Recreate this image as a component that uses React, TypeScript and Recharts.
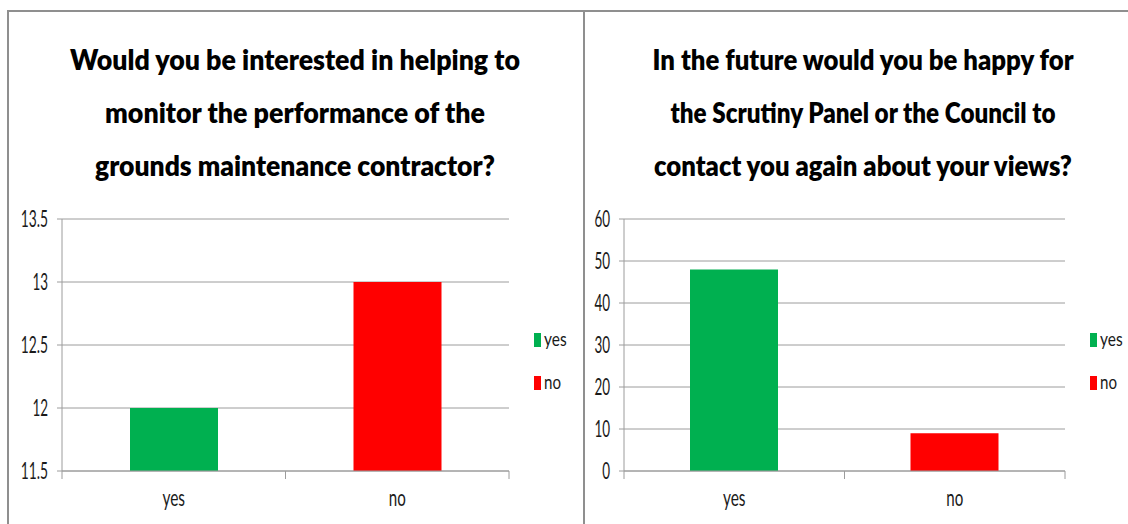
import React from "react";
import { BarChart, Bar, XAxis, YAxis, CartesianGrid, Cell, Legend } from "recharts";

// survey answers
const categories = ["yes", "no"];
const helpMonitorValues = [12, 13];
const contactAgainValues = [48, 9];

const helpMonitorTicks = [11.5, 12, 12.5, 13, 13.5];
const contactAgainTicks = [0, 10, 20, 30, 40, 50, 60];

const helpMonitorTitle = [
  "Would you be interested in helping to",
  "monitor the performance of the",
  "grounds maintenance contractor?",
];
const contactAgainTitle = [
  "In the future would you be happy for",
  "the Scrutiny Panel or the Council to",
  "contact you again about your views?",
];

const barColors = ["#00B050", "#FF0000"];
const GRID = "#9c9c9c";
const FRAME = "#8f8f8f";
const FONT = "Lato, 'Noto Sans', sans-serif";
const HEIGHT = 524;
const PLOT_TOP = 219;
const PLOT_BOTTOM = 471;
const LABEL_SIZE = 23;

// approximate widths of the narrow labels in the picture
const CHAR_W: Record<string, number> = { ".": 3.9, y: 7.4, e: 8, s: 7.2, n: 8.5, o: 8.5 };
const labelWidth = (s: string) =>
  s.split("").reduce((w, c) => w + (CHAR_W[c] ?? 7.8), 0);

const ValueTick = (props: any) => {
  const { x, y, payload } = props;
  const label = String(payload.value);
  return (
    <text
      x={x}
      y={y + 8}
      textAnchor="end"
      fontFamily={FONT}
      fontSize={LABEL_SIZE}
      fill="#1a1a1a"
      textLength={labelWidth(label)}
      lengthAdjust="spacingAndGlyphs"
    >
      {label}
    </text>
  );
};

const CategoryTick = (props: any) => {
  const { x, y, payload, index, half } = props;
  const h = payload && payload.offset ? payload.offset : half;
  const label = String(payload.value);
  return (
    <g>
      {index === 0 && (
        <line x1={x - h} x2={x - h} y1={y} y2={y + 8} stroke={GRID} />
      )}
      <line x1={x + h} x2={x + h} y1={y} y2={y + 8} stroke={GRID} />
      <text
        x={x}
        y={y + 35}
        textAnchor="middle"
        fontFamily={FONT}
        fontSize={LABEL_SIZE}
        fill="#1a1a1a"
        textLength={labelWidth(label)}
        lengthAdjust="spacingAndGlyphs"
      >
        {label}
      </text>
    </g>
  );
};

const LegendBox = () => (
  <svg width={36} height={60} style={{ display: "block", overflow: "visible" }}>
    {categories.map((c, i) => (
      <g key={c} transform={`translate(0, ${i * 43})`}>
        <rect x={0} y={0} width={7} height={14} fill={barColors[i]} />
        <text
          x={10}
          y={13}
          fontFamily={FONT}
          fontSize={20}
          fill="#1a1a1a"
          textLength={labelWidth(c)}
          lengthAdjust="spacingAndGlyphs"
        >
          {c}
        </text>
      </g>
    ))}
  </svg>
);

interface PanelProps {
  left: number;
  width: number;
  axisWidth: number;
  marginRight: number;
  values: number[];
  ticks: number[];
  legendLeft: number;
}

const Panel = ({ left, width, axisWidth, marginRight, values, ticks, legendLeft }: PanelProps) => {
  const data = categories.map((name, i) => ({ name, value: values[i] }));
  const plotWidth = width - axisWidth - marginRight;
  const half = plotWidth / categories.length / 2;
  return (
    <div style={{ position: "absolute", left, top: 0 }}>
      <BarChart
        width={width}
        height={HEIGHT}
        data={data}
        margin={{ top: PLOT_TOP, right: marginRight, bottom: 0, left: 0 }}
      >
        <CartesianGrid vertical={false} stroke={GRID} />
        <XAxis
          dataKey="name"
          stroke={GRID}
          tickLine={false}
          tickSize={0}
          tickMargin={0}
          height={HEIGHT - PLOT_BOTTOM}
          interval={0}
          tick={<CategoryTick half={half} />}
        />
        <YAxis
          type="number"
          domain={[ticks[0], ticks[ticks.length - 1]]}
          ticks={ticks}
          interval={0}
          allowDataOverflow
          width={axisWidth}
          stroke={GRID}
          tickSize={5}
          tickMargin={9}
          tick={<ValueTick />}
        />
        <Bar dataKey="value" barSize={88} isAnimationActive={false}>
          {data.map((d, i) => (
            <Cell key={d.name} fill={barColors[i]} />
          ))}
        </Bar>
        <Legend
          layout="vertical"
          align="center"
          verticalAlign="middle"
          wrapperStyle={{ left: legendLeft, top: 333, width: 36, height: 60 }}
          content={() => <LegendBox />}
        />
      </BarChart>
    </div>
  );
};

const titleWidthsLeft = [450, 380, 400];
const titleWidthsRight = [421, 385, 418];
const titleBaselines = [70, 123, 176];

const TitleLine = ({ text, x, y, width }: { text: string; x: number; y: number; width: number }) => (
  <g transform={`translate(${x}, ${y}) scale(1, 1.12)`}>
    <text
      x={0}
      y={0}
      textAnchor="middle"
      fontFamily={FONT}
      fontWeight={800}
      fontSize={26}
      fill="#000"
      textLength={width}
      lengthAdjust="spacingAndGlyphs"
    >
      {text}
    </text>
  </g>
);

const Frame = () => (
  <svg
    width={1128}
    height={HEIGHT}
    style={{ position: "absolute", left: 0, top: 0, pointerEvents: "none" }}
  >
    <line x1={8} x2={1128} y1={11} y2={11} stroke={FRAME} strokeWidth={2} />
    <line x1={8} x2={8} y1={10} y2={HEIGHT} stroke={FRAME} strokeWidth={2} />
    <line x1={584} x2={584} y1={10} y2={HEIGHT} stroke={FRAME} strokeWidth={2} />
    {helpMonitorTitle.map((t, i) => (
      <TitleLine key={t} text={t} x={295} y={titleBaselines[i]} width={titleWidthsLeft[i]} />
    ))}
    {contactAgainTitle.map((t, i) => (
      <TitleLine key={t} text={t} x={863} y={titleBaselines[i]} width={titleWidthsRight[i]} />
    ))}
  </svg>
);

export default function App() {
  return (
    <div
      style={{
        position: "fixed",
        left: 0,
        top: 0,
        width: 1128,
        height: HEIGHT,
        background: "#fff",
        overflow: "hidden",
      }}
    >
      <Panel
        left={0}
        width={584}
        axisWidth={62}
        marginRight={75}
        values={helpMonitorValues}
        ticks={helpMonitorTicks}
        legendLeft={534}
      />
      <Panel
        left={584}
        width={544}
        axisWidth={40}
        marginRight={63}
        values={contactAgainValues}
        ticks={contactAgainTicks}
        legendLeft={506}
      />
      <Frame />
    </div>
  );
}
